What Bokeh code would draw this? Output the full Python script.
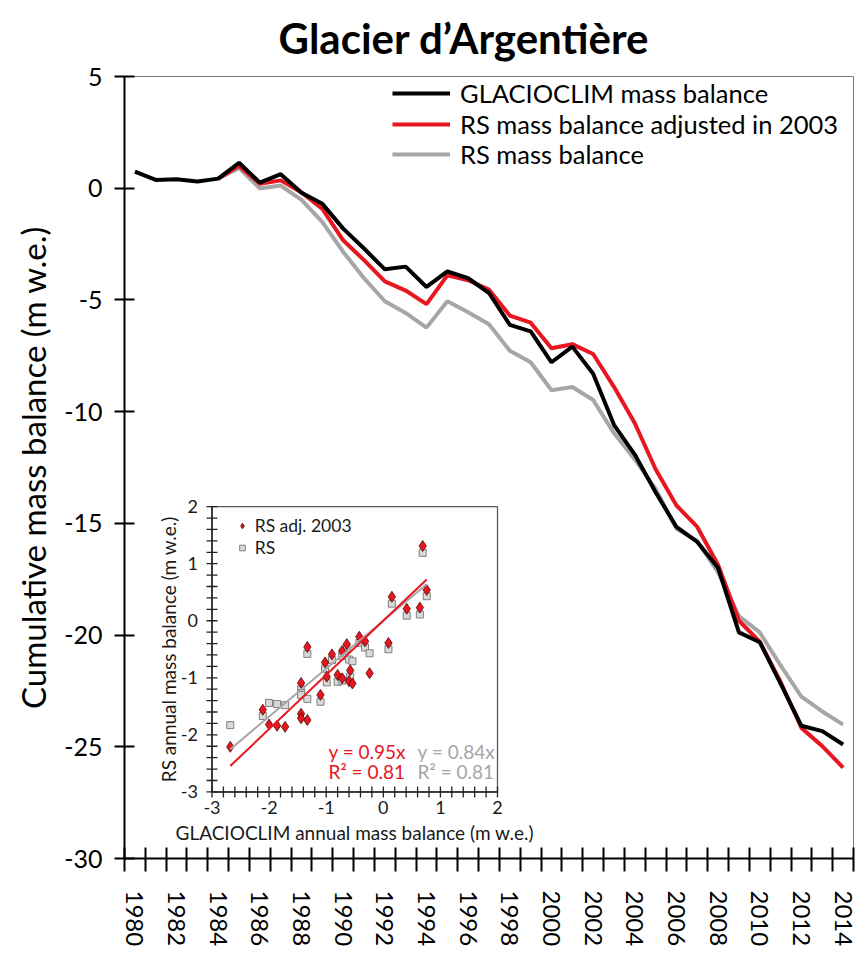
import numpy as np
from math import pi
from bokeh.plotting import figure
from bokeh.models import Range1d, FixedTicker, Legend, LegendItem
from bokeh.core.properties import value
from bokeh.embed import file_html
from bokeh.resources import INLINE

# ---------------- data ----------------
years = [1980, 1981, 1982, 1983, 1984, 1985, 1986, 1987, 1988, 1989,
         1990, 1991, 1992, 1993, 1994, 1995, 1996, 1997, 1998, 1999,
         2000, 2001, 2002, 2003, 2004, 2005, 2006, 2007, 2008, 2009,
         2010, 2011, 2012, 2013, 2014]
glacioclim = [0.74, 0.37, 0.40, 0.30, 0.43, 1.14, 0.25, 0.63, -0.20, -0.70,
              -1.81, -2.70, -3.63, -3.51, -4.42, -3.72, -4.03, -4.69, -6.12, -6.41,
              -7.79, -7.09, -8.30, -10.59, -11.92, -13.61, -15.16, -15.83, -17.00, -19.88,
              -20.32, -22.17, -24.06, -24.30, -24.90]

rs_years = [1984, 1985, 1986, 1987, 1988, 1989,
            1990, 1991, 1992, 1993, 1994, 1995, 1996, 1997, 1998, 1999,
            2000, 2001, 2002, 2003, 2004, 2005, 2006, 2007, 2008, 2009,
            2010, 2011, 2012, 2013, 2014]
rs_adjusted = [0.43, 1.00, 0.20, 0.35, -0.19, -0.93,
               -2.33, -3.22, -4.17, -4.58, -5.19, -3.90, -4.12, -4.54, -5.70, -6.02,
               -7.16, -6.98, -7.42, -8.89, -10.52, -12.58, -14.20, -15.16, -16.86, -19.36,
               -20.30, -22.10, -24.16, -24.97, -25.93]
rs_raw = [0.43, 0.91, -0.01, 0.12, -0.52, -1.52,
          -2.85, -4.03, -5.06, -5.58, -6.24, -5.06, -5.55, -6.09, -7.27, -7.79,
          -9.04, -8.90, -9.48, -10.96, -12.14, -13.46, -15.24, -15.80, -17.20, -19.15,
          -19.88, -21.36, -22.76, -23.42, -24.01]

y_ticks = [5, 0, -5, -10, -15, -20, -25, -30]
x_label_years = [1980, 1982, 1984, 1986, 1988, 1990, 1992, 1994, 1996, 1998,
                 2000, 2002, 2004, 2006, 2008, 2010, 2012, 2014]

# inset: annual balances
inset_glacioclim = [-2.68, -2.11, -2.00, -1.86, -1.72, -1.44, -1.44, -1.44, -1.33, -1.33,
                    -1.10, -1.02, -0.99, -0.90, -0.80, -0.72, -0.72, -0.64, -0.60, -0.58,
                    -0.54, -0.42, -0.32, -0.24, 0.09, 0.15, 0.41, 0.64, 0.69, 0.76]
inset_rs_adj = [-2.21, -1.56, -1.82, -1.84, -1.86, -1.09, -1.63, -1.71, -1.74, -0.46,
                -1.30, -0.73, -0.98, -0.59, -0.95, -1.01, -0.53, -0.41, -1.06, -0.87,
                -1.10, -0.28, -0.36, -0.92, -0.39, 0.42, 0.21, 0.23, 1.31, 0.54]
inset_rs = [-1.83, -1.67, -1.44, -1.46, -1.48, -1.20, -1.27, -1.30, -1.37, -0.58,
            -1.42, -0.84, -1.08, -0.69, -1.07, -1.05, -0.62, -0.50, -0.68, -0.98,
            -0.71, -0.39, -0.47, -0.57, -0.50, 0.30, 0.09, 0.11, 1.19, 0.43]
inset_ticks = [-3, -2, -1, 0, 1, 2]
slope_adj, r2_adj = 0.95, 0.81
slope_rs, r2_rs = 0.84, 0.81

# ---------------- styles ----------------
FONT = "Lato"
RED = "#e8161e"
GRAY = "#a6a6a6"
W, H = 859, 949
FL, FR, FT, FB = 124, 853, 76, 859           # main frame (canvas px)
IL, IR, IT, IB = 211.5, 497.0, 506.7, 792.3  # inset box (canvas px)

p = figure(width=W, height=H, output_backend="svg", toolbar_location=None,
           x_range=Range1d(years[0] - 0.5, years[-1] + 0.5),
           y_range=Range1d(min(y_ticks), max(y_ticks)),
           min_border_left=FL, min_border_right=W - FR,
           min_border_top=FT, min_border_bottom=H - FB)
p.background_fill_color = "white"
p.border_fill_color = "white"
p.grid.visible = False
p.outline_line_color = "#7a7a7a"
p.outline_line_width = 1

# title
p.title.text = "Glacier d\u2019Argenti\u00e8re"
p.title.text_font = FONT
p.title.text_font_style = "bold"
p.title.text_font_size = "42px"
p.title.align = "left"
p.title.offset = 154
p.title.vertical_align = "top"
p.title.standoff = 24
p.title.text_color = "black"

# y axis
ya = p.yaxis[0]
ya.ticker = FixedTicker(ticks=y_ticks)
ya.major_label_overrides = {t: str(t) for t in y_ticks}
ya.major_tick_in = 10
ya.major_tick_out = 10
ya.major_tick_line_width = 2
ya.major_tick_line_color = "black"
ya.axis_line_width = 2
ya.axis_line_color = "black"
ya.major_label_text_font = FONT
ya.major_label_text_font_size = "25px"
ya.major_label_text_color = "black"
ya.major_label_standoff = 12
ya.axis_label = "Cumulative mass balance (m w.e.)"
ya.axis_label_text_font = FONT
ya.axis_label_text_font_size = "33px"
ya.axis_label_text_font_style = "normal"
ya.axis_label_text_color = "black"
ya.axis_label_standoff = 8

# x axis: labels on every other year, tick marks between years
xa = p.xaxis[0]
boundaries = [y - 0.5 for y in years] + [years[-1] + 0.5]
xa.ticker = FixedTicker(ticks=x_label_years, minor_ticks=boundaries)
xa.major_tick_in = 0
xa.major_tick_out = 0
xa.minor_tick_in = 11
xa.minor_tick_out = 13
xa.minor_tick_line_width = 2
xa.minor_tick_line_color = "black"
xa.axis_line_width = 2
xa.axis_line_color = "black"
xa.major_label_orientation = "vertical"
xa.major_label_text_font = FONT
xa.major_label_text_font_size = "24px"
xa.major_label_text_color = "black"
xa.major_label_standoff = 19

# main lines
r_gray = p.line(rs_years, rs_raw, line_color=GRAY, line_width=4)
r_red = p.line(rs_years, rs_adjusted, line_color=RED, line_width=4)
r_black = p.line(years, glacioclim, line_color="black", line_width=4)

# main legend: one row per Legend so that rows sit exactly where wanted
legend_labels = ["GLACIOCLIM mass balance", "RS mass balance adjusted in 2003", "RS mass balance"]
LFS = 25.5
PITCH = 30.8
MID = 124.5
legend_rows = [MID - PITCH, MID, MID + PITCH]   # row centres, canvas px
ROWH = 30
for lab, rnd, cy in zip(legend_labels, [r_black, r_red, r_gray], legend_rows):
    lg = Legend(items=[LegendItem(label=lab, renderers=[rnd])],
                location=(392 - FL, FB - (cy + ROWH / 2)), padding=0, margin=0, spacing=0,
                glyph_width=58, glyph_height=ROWH, label_height=ROWH, label_standoff=10,
                label_text_font=FONT, label_text_font_size=f"{LFS}px", label_text_color="black",
                background_fill_alpha=0, border_line_alpha=0)
    p.add_layout(lg)

# ---------------- inset ----------------
xmin, xmax = inset_ticks[0], inset_ticks[-1]
ymin, ymax = inset_ticks[0], inset_ticks[-1]
kx = (IR - IL) / (xmax - xmin)
ky = (IB - IT) / (ymax - ymin)
p.extra_x_ranges = {"ix": Range1d(xmin - (IL - FL) / kx, xmax + (FR - IR) / kx)}
p.extra_y_ranges = {"iy": Range1d(ymin - (FB - IB) / ky, ymax + (IT - FT) / ky)}
ir = dict(x_range_name="ix", y_range_name="iy")

p.quad(left=[xmin], right=[xmax], bottom=[ymin], top=[ymax], fill_color="white",
       line_color="#5a5a5a", line_width=1.3, **ir)

minor = [round(v, 2) for v in np.arange(xmin, xmax + 1e-9, 0.2)]
tx = 5.5 / kx
ty = 5.5 / ky
p.segment(x0=minor, x1=minor, y0=[ymin - ty] * len(minor), y1=[ymin + ty] * len(minor),
          line_color="#222222", line_width=1.3, **ir)
p.segment(x0=[xmin - tx] * len(minor), x1=[xmin + tx] * len(minor), y0=minor, y1=minor,
          line_color="#222222", line_width=1.3, **ir)
p.segment(x0=[xmin, xmin], x1=[xmax, xmin], y0=[ymin, ymin], y1=[ymin, ymax],
          line_color="#222222", line_width=1.5, **ir)

lbl = [str(t) for t in inset_ticks]
p.text(x=inset_ticks, y=[ymin] * len(inset_ticks), text=lbl, text_align="center",
       text_baseline="top", y_offset=9, text_font=value(FONT), text_font_size="18px",
       text_color="#1a1a1a", **ir)
p.text(x=[xmin] * len(inset_ticks), y=inset_ticks, text=lbl, text_align="right",
       text_baseline="middle", x_offset=-14, text_font=value(FONT), text_font_size="18px",
       text_color="#1a1a1a", **ir)
p.text(x=[(xmin + xmax) / 2], y=[ymin], text=["GLACIOCLIM annual mass balance (m w.e.)"],
       text_align="center", text_baseline="top", y_offset=29, text_font=value(FONT),
       text_font_size="19px", text_color="#1a1a1a", **ir)
p.text(x=[xmin], y=[(ymin + ymax) / 2], text=["RS annual mass balance (m w.e.)"],
       angle=pi / 2, text_align="center", text_baseline="alphabetic", x_offset=-44,
       text_font=value(FONT), text_font_size="19px", text_color="#1a1a1a", **ir)

xs = [min(inset_glacioclim), max(inset_glacioclim)]
r_sq = p.scatter(inset_glacioclim, inset_rs, marker="square", size=7, fill_color="#d9d9d9",
                 line_color="#7f7f7f", line_width=1, **ir)
r_di = p.scatter(inset_glacioclim, inset_rs_adj, marker="diamond", size=11, fill_color=RED,
                 line_color="#4a0a0a", line_width=0.8, **ir)
p.line(xs, [slope_rs * v for v in xs], line_color=GRAY, line_width=2, **ir)
p.line(xs, [slope_adj * v for v in xs], line_color=RED, line_width=2, **ir)

p.text(x=[-0.96, -0.96], y=[-2.29, -2.64],
       text=[f"y = {slope_adj}x", f"R\u00b2 = {r2_adj}"], text_align="left",
       text_baseline="middle", text_font=value(FONT), text_font_size="19px", text_color=RED, **ir)
p.text(x=[0.60, 0.60], y=[-2.29, -2.64],
       text=[f"y = {slope_rs}x", f"R\u00b2 = {r2_rs}"], text_align="left",
       text_baseline="middle", text_font=value(FONT), text_font_size="19px", text_color=GRAY, **ir)

IROW = 21
ileg = Legend(items=[LegendItem(label="RS adj. 2003", renderers=[r_di]),
                     LegendItem(label="RS", renderers=[r_sq])],
              location=(241.7 - 7 - FL, FB - (516 + 2 * IROW + 1)),
              padding=0, margin=0, spacing=1,
              glyph_width=14, glyph_height=IROW, label_height=IROW, label_standoff=6,
              label_text_font=FONT, label_text_font_size="17.5px", label_text_color="#1a1a1a",
              background_fill_alpha=0, border_line_alpha=0)
p.add_layout(ileg)

open("out.html", "w").write(file_html(p, INLINE))
